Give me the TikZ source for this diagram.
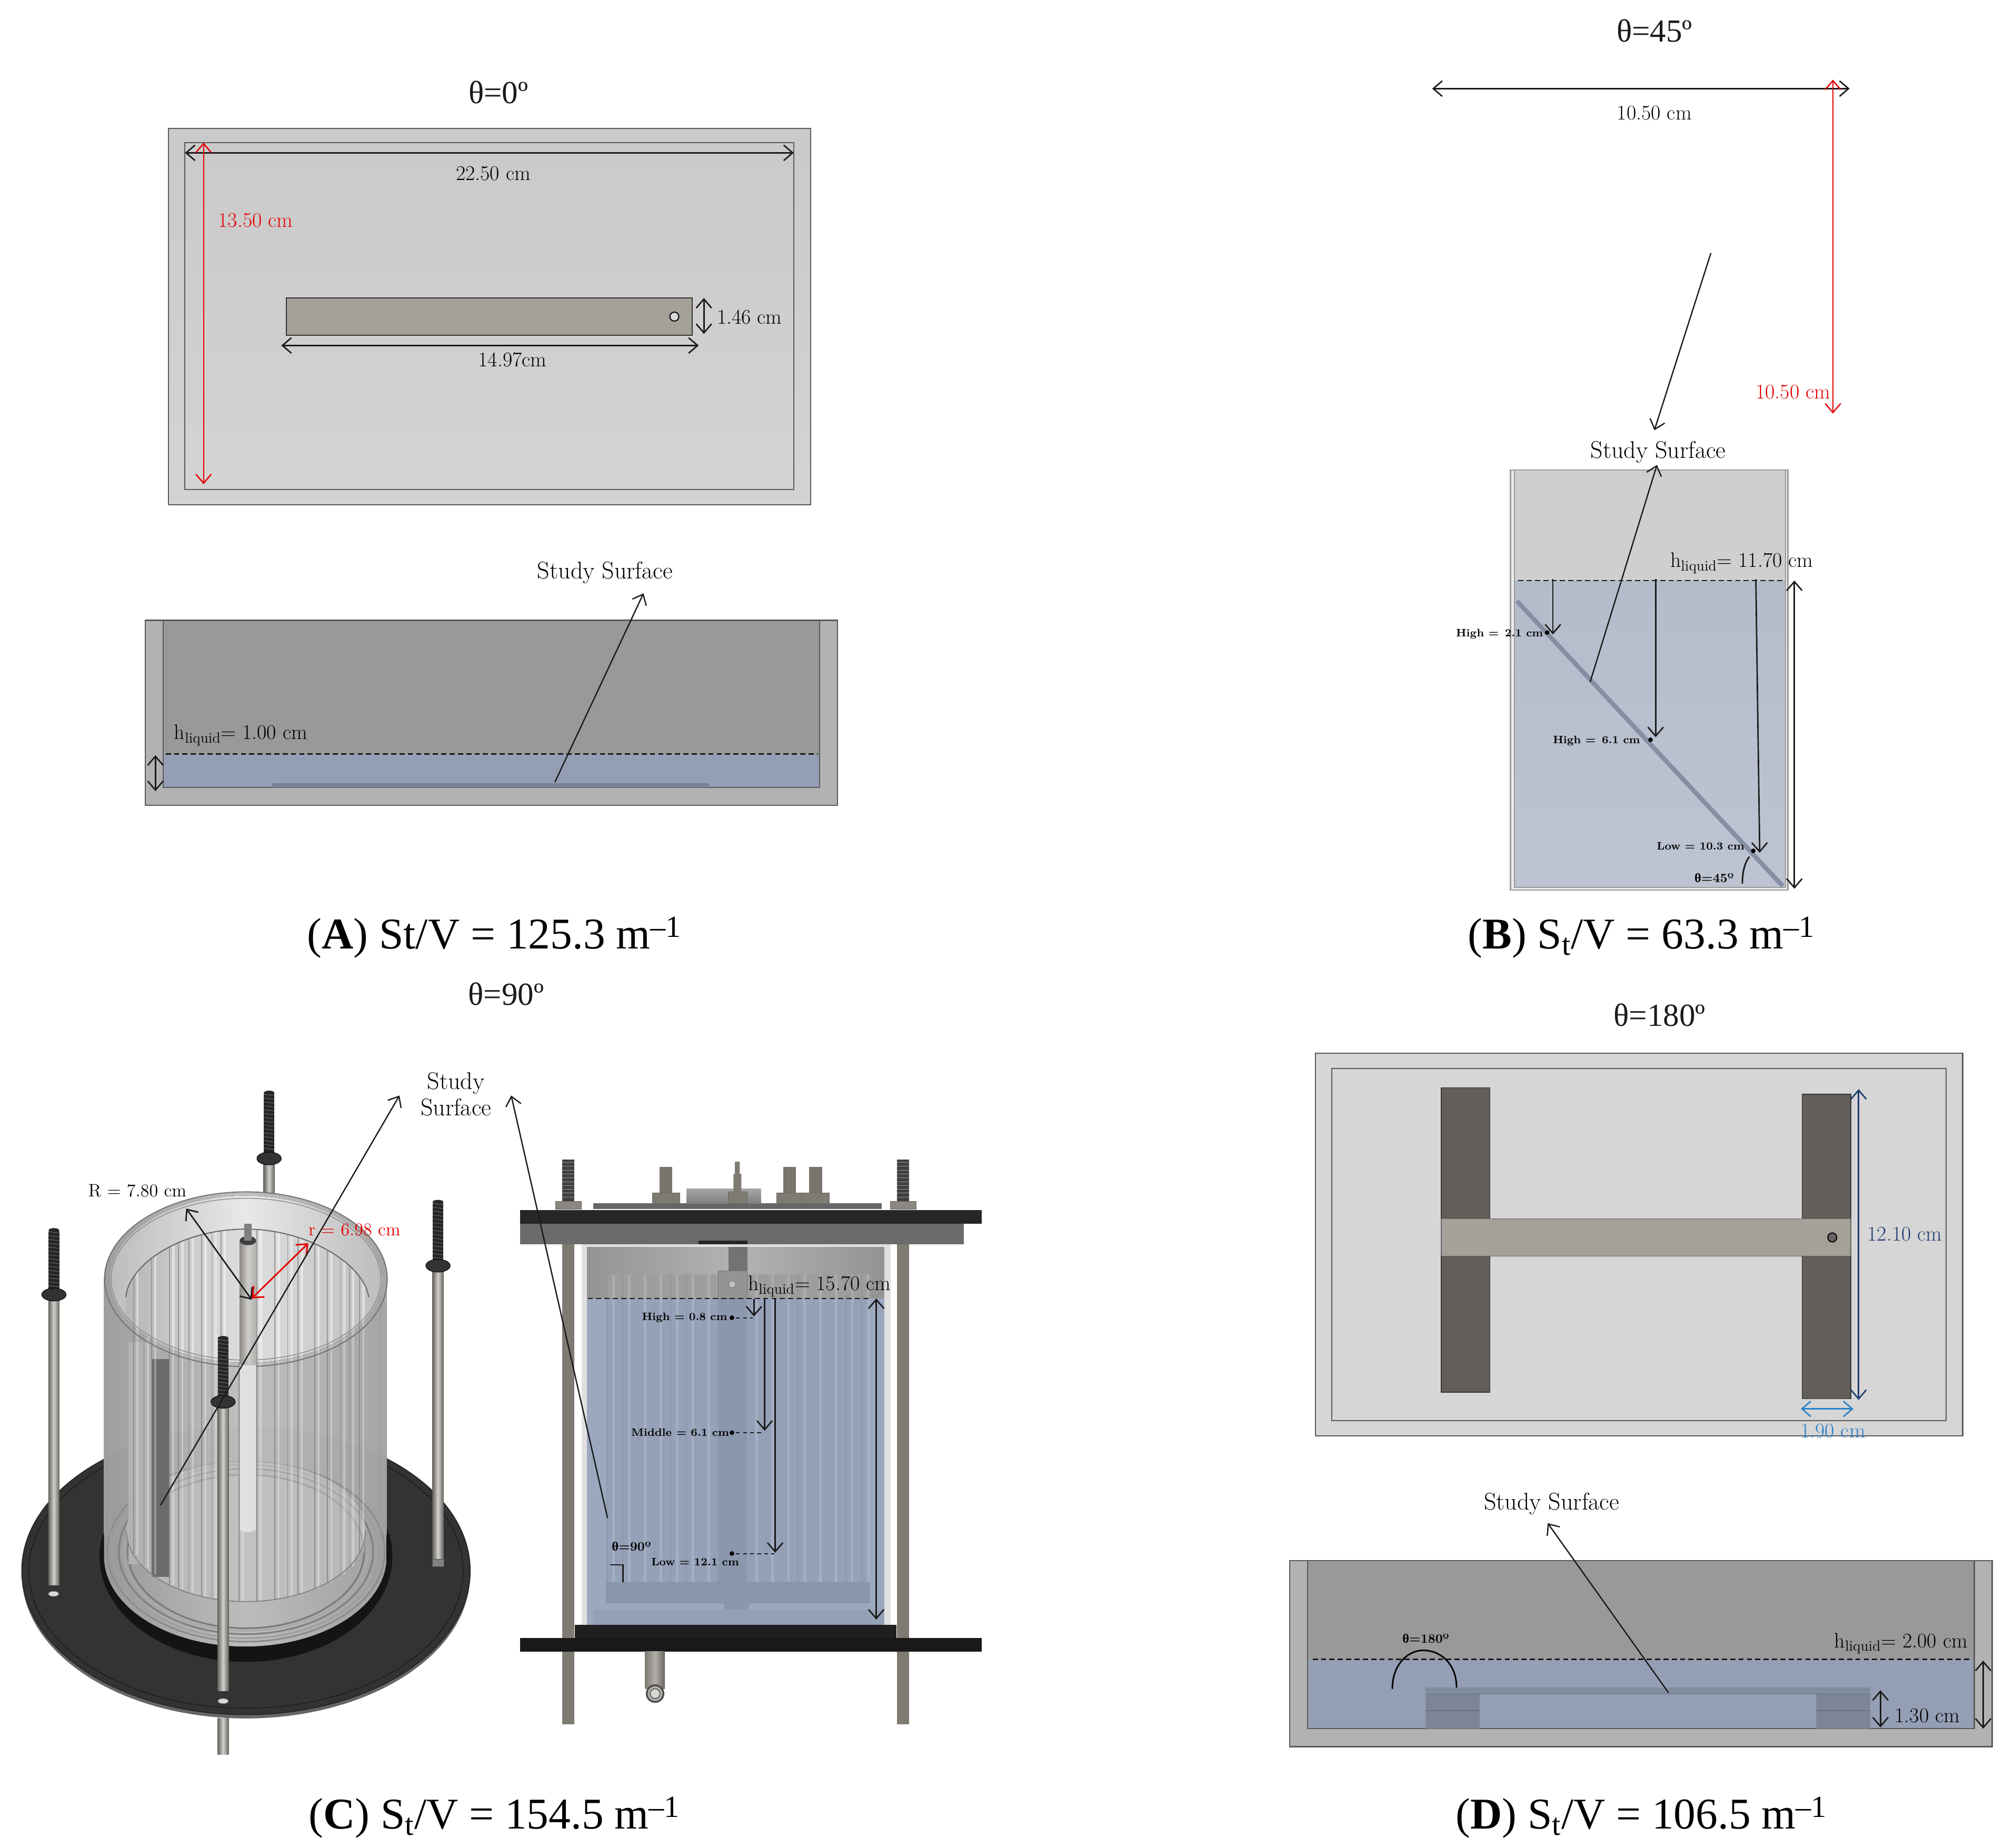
\documentclass[tikz,border=0pt]{standalone}
\usepackage{fontspec}
\usetikzlibrary{arrows.meta,calc}
\newfontfamily\capfont{Liberation Serif}
\definecolor{wallgray}{HTML}{B2B2B2}
\definecolor{airgray}{HTML}{999999}
\definecolor{liquidblue}{HTML}{949FB5}
\definecolor{liquidfront}{HTML}{9BA8C0}
\definecolor{platebrown}{HTML}{A5A098}
\definecolor{legbrown}{HTML}{625E5A}
\definecolor{navydim}{HTML}{1F3A70}
\definecolor{bluedim}{HTML}{2A80C8}
\definecolor{rodgray}{HTML}{7F7B73}
\definecolor{inkblack}{HTML}{1A1A1A}
\tikzset{
	txtlbl/.style={font=\fontsize{16.3}{18}\selectfont, text=black, inner sep=0pt},
	txtstudy/.style={font=\fontsize{18.8}{20.5}\selectfont, text=black, inner sep=0pt, align=center},
	txtbold/.style={font=\fontsize{8.4}{10}\selectfont\bfseries, text=black, inner sep=0pt},
	txtangle/.style={font=\fontsize{10}{12}\selectfont\bfseries, text=black, inner sep=0pt},
	txttitle/.style={font=\capfont\fontsize{25}{28}\selectfont, text=inkblack, inner sep=0pt},
	txtcap/.style={font=\capfont\fontsize{34.2}{40}\selectfont, text=black, inner sep=0pt},
	dimarrow/.style={inkblack, line width=1.1pt, >={Straight Barb[length=7pt,width=12pt]}},
	dimred/.style={dimarrow, red!90!black, line width=1pt},
	studyarrow/.style={dimarrow, line width=1pt},
	edgeline/.style={draw=black!65, line width=0.9pt},
	levelline/.style={inkblack, line width=1pt, dash pattern=on 4pt off 2.5pt},
}
\def\studrod(#1:#2:#3:#4){%
	\fill[left color=rodgray!80!black, right color=rodgray!80!black, middle color=rodgray!35] (#1-4.3,#3) rectangle (#1+4.3,#4);
	\fill[black!85] (#1-4.2,#2+2) rectangle (#1+4.2,#3-4);
	\fill[black!85] (#1,#2+1) ellipse [x radius=4.2, y radius=1.8];
	\foreach \t in {2,5,...,44}{\draw[black!50, line width=0.3pt] (#1-4.2,#2+\t) -- (#1+4.2,#2+\t+1);}
	\fill[black!80, draw=black] (#1,#3) ellipse [x radius=9.5, y radius=5];
}
\def\hexbolt(#1:#2:#3:#4:#5){%
	\fill[rodgray!95!black] (#1-#3,#2) rectangle (#1+#3,#5);
	\fill[rodgray, draw=black!60] (#1-#4,#5) rectangle (#1+#4,937);
}
\begin{document}
\begin{tikzpicture}[x=1pt, y=-1pt]
	%%%%% START %%%%%
	\useasboundingbox (0,0) rectangle (1568,1438.5);
	
	%%%%% A: top view
	\node[txttitle] (titleA) at (388,72) {θ=0º};
	\draw[edgeline, top color=black!21, bottom color=black!17] (131,100) rectangle (631,393);
	\draw[edgeline] (144,111) rectangle (618,381);
	\draw[black!80, fill=platebrown, line width=1pt] (223,232) rectangle (539,261);
	\draw[black, fill=white!85!black, line width=0.8pt] (525,246.5) circle (3.5);
	\draw[<->, dimarrow] (144,119) -- (618,119);
	\draw[<->, dimred] (158.5,111) -- (158.5,377);
	\draw[<->, dimarrow] (548,232) -- (548,260);
	\draw[<->, dimarrow] (219,269) -- (544,269);
	\node[txtlbl] (widthA) at (384,135) {22.50 cm};
	\node[txtlbl, text=red!90!black] (depthA) at (199,171.5) {13.50 cm};
	\node[txtlbl] (barA) at (583.5,247) {1.46 cm};
	\node[txtlbl] (lenA) at (399,280) {14.97cm};
	
	%%%%% A: side view
	\node[txtstudy] (studyA) at (471,446) {Study Surface};
	\draw[edgeline, fill=wallgray] (113,483) rectangle (652,627);
	\draw[edgeline, fill=airgray] (127,483) rectangle (638,613);
	\fill[liquidblue] (127.5,587) rectangle (637.5,612.5);
	\fill[black!18!liquidblue] (212,610) rectangle (552,613);
	\draw[levelline] (129,587) -- (637,587);
	\draw[->, studyarrow] (432,609) -- (501,462);
	\draw[<->, dimarrow] (121,588) -- (121,616);
	\node[txtlbl] (levelA) at (187.5,572.5) {h\textsubscript{liquid}= 1.00 cm};
	\node[txtcap] (capA) at (385,730) {(\textbf{A}) St/V = 125.3 m\textsuperscript{–1}};
	
	%%%%% B: inclined
	\node[txttitle] (titleB) at (1288,24) {θ=45º};
	\draw[<->, dimarrow] (1115,69) -- (1440,69);
	\draw[<->, dimred] (1427,62) -- (1427,322);
	\draw[->, studyarrow] (1332,197) -- (1288,335);
	\node[txtlbl] (widthB) at (1288,88) {10.50 cm};
	\node[txtlbl, text=red!90!black] (depthB) at (1396,305) {10.50 cm};
	\node[txtstudy] (studyB) at (1291,352) {Study Surface};
	\draw[black!40, fill=black!8, line width=1pt] (1176,366) rectangle (1392,693);
	\draw[black!40, fill=black!19, line width=0.8pt] (1179,366) rectangle (1390,691);
	\fill[top color=liquidblue!70!white, bottom color=liquidblue!62!white] (1179.5,452) rectangle (1389.5,690.5);
	\draw[black!10!liquidblue, line width=3.5pt] (1181,468) -- (1388,690);
	\draw[levelline] (1182,452) -- (1390,452);
	\draw[->, dimarrow] (1209,451) -- (1209,494);
	\draw[->, dimarrow] (1289,451) -- (1289,574);
	\draw[->, dimarrow] (1367,451) -- (1370,664);
	\draw[<->, dimarrow] (1397,452) -- (1397,692);
	\draw[->, studyarrow] (1238,531) -- (1290,362);
	\fill[black] (1204.5,492.5) circle (1.8) (1285,576) circle (1.8) (1365,662.5) circle (1.8);
	\draw[inkblack, line width=1.2pt] (1362,667) .. controls (1358,672) and (1356.5,680) .. (1356.5,688);
	\node[txtlbl] (levelB) at (1356,438.5) {h\textsubscript{liquid}= 11.70 cm};
	\node[txtbold] (highB) at (1167.5,493.5) {High = \,2.1 cm};
	\node[txtbold] (midB) at (1243,577) {High = \,6.1 cm};
	\node[txtbold] (lowB) at (1324,659) {Low = 10.3 cm};
	\node[txtangle] (angleB) at (1334.5,683.5) {{\capfont θ}=45º};
	\node[txtcap] (capB) at (1278,730) {(\textbf{B}) S\textsubscript{t}/V = 63.3 m\textsuperscript{–1}};
	
	%%%%% C: vertical, iso view
	\node[txttitle] (titleC) at (394,774) {θ=90º};
	\studrod(209.5:850:902:1100)
	\fill[black!60] (191.5,1226) ellipse [x radius=174.5, y radius=112];
	\draw[black!85, fill=black!80, line width=0.8pt] (191.5,1223) ellipse [x radius=174.5, y radius=112];
	\draw[black!90, line width=0.5pt] (191.5,1223) ellipse [x radius=169, y radius=107];
	\fill[black!92] (191.5,1212) ellipse [x radius=114, y radius=82];
	%% cylinder body
	\fill[left color=black!30, right color=black!27, middle color=black!14, fill opacity=0.86] (301,996) -- (301,1212) arc (0:180:110 and 70) -- (81,996) arc (180:360:110 and 68) -- cycle;
	\foreach \r/\c in {108/45,104/38,99/50,95/34,92/52}{
		\draw[black!\c, line width=1.3pt] (191.5,1208) ellipse [x radius=\r, y radius=\r*0.65];
	}
	\fill[black!22, fill opacity=0.55] (191.5,1192) ellipse [x radius=93, y radius=55];
	\fill[black!30] (100,1045) rectangle (118,1218);
	\fill[black!58] (118.5,1058) rectangle (131.5,1228);
	\foreach \x in {104,112,118,132,139,147,157,165,172,186,200,214,224,232,245,255,265,272,280}{
		\pgfmathsetmacro\ytop{995+50*sqrt(1-pow((\x-191.5)/93,2))}
		\pgfmathsetmacro\ybot{1192+55*sqrt(1-pow((\x-191.5)/93,2))}
		\draw[black!45, line width=0.6pt] (\x,\ytop) -- (\x,\ybot);
		\draw[white, opacity=0.3, line width=1.6pt] (\x+3,\ytop) -- (\x+3,\ybot);
	}
	\draw[black!50, line width=0.7pt] (98.5,1192) arc (180:0:93 and 55);
	\draw[black!38, line width=0.7pt] (81,996) -- (81,1195) (301,996) -- (301,1195) (86,1000) -- (86,1198) (296,1000) -- (296,1198);
	%% top rim and inside
	\fill[left color=black!26, right color=black!26, middle color=black!9] (191.5,996) ellipse [x radius=106, y radius=65];
	\begin{scope}
		\clip (191.5,996) ellipse [x radius=106, y radius=65];
		\clip (98,1070) -- (98,1010) .. controls (100,985) and (140,957) .. (191.5,957) .. controls (240,957) and (284,985) .. (287,1010) -- (287,1070) -- cycle;
		\fill[left color=black!28, right color=black!24, middle color=black!13] (98,950) rectangle (287,1070);
		\foreach \x in {104,118,132,139,147,157,165,172,200,214,224,232,245,255,265,272,280}{
			\draw[black!40, line width=0.7pt] (\x,950) -- (\x,1070);
			\draw[white, opacity=0.45, line width=1.8pt] (\x+3,950) -- (\x+3,1070);
		}
	\end{scope}
	\draw[black!60, line width=0.8pt] (98,1010) .. controls (100,985) and (140,957) .. (191.5,957) .. controls (240,957) and (284,985) .. (287,1010);
	\draw[black!55, line width=0.8pt] (191.5,996) ellipse [x radius=110, y radius=68];
	\draw[black!45, line width=0.6pt] (191.5,996) ellipse [x radius=105, y radius=63];
	%% centre tube
	\fill[black!12, draw=black!25] (186.5,1063) rectangle (199.5,1190);
	\fill[black!12] (193,1190) ellipse [x radius=6.5, y radius=3];
	\fill[left color=rodgray!90, right color=rodgray!60, middle color=black!20] (186.5,967) rectangle (199.5,1062);
	\fill[black!75] (193,966) ellipse [x radius=6.5, y radius=3.5];
	\fill[black!50] (190,953) rectangle (196,966);
	\studrod(42:957:1008:1234)
	\fill[black!15, draw=black!50] (41.7,1241) ellipse [x radius=4, y radius=2];
	\studrod(341:935:985.5:1214)
	\fill[black!50, draw=black!70] (336.5,1214) rectangle (345.5,1220);
	\studrod(173.7:1041:1091.5:1316.5)
	\fill[black!15, draw=black!50] (173.7,1324.5) ellipse [x radius=4, y radius=2];
	\fill[left color=rodgray!80!black, right color=rodgray!80!black, middle color=rodgray!35] (169.5,1338) rectangle (178,1366);
	\draw[<->, dimarrow] (145,941) -- (196,1012);
	\draw[<->, dimred, line width=1.2pt] (196,1011) -- (240,968);
	\draw[->, studyarrow] (125,1172) -- (311,853);
	\node[txtlbl, font=\fontsize{14}{16}\selectfont] (radiusC) at (107,927) {R = 7.80 cm};
	\node[txtlbl, font=\fontsize{14}{16}\selectfont, text=red!90!black] (innerC) at (276,957.5) {r = 6.98 cm};
	\node[txtstudy] (studyC) at (355,852) {Study\\Surface};
	
	%%%%% C: vertical, front view
	\fill[rodgray] (437.8,969) rectangle (447.2,1342.5);
	\fill[rodgray] (698.5,969) rectangle (707.7,1342.5);
	\fill[black!12] (452.7,969) rectangle (693.3,1265);
	\fill[left color=black!42, right color=black!42, middle color=black!30] (457,971) rectangle (688.5,1011);
	\fill[liquidfront] (457,1011) rectangle (688.5,1265);
	\fill[black!38] (472.5,992) rectangle (676.7,1011);
	\fill[black!4!liquidfront] (472.5,1011) rectangle (676.7,1232);
	\foreach \x in {472.5,484.9,...,677}{
		\draw[black!50, opacity=0.3, line width=0.6pt] (\x,992) -- (\x,1232);
		\draw[white, opacity=0.15, line width=2pt] (\x+5,992) -- (\x+5,1232);
	}
	\fill[black!55] (567,971) rectangle (582,990);
	\fill[black!42, draw=black!55] (559,989.5) rectangle (581.7,1011);
	\draw[black!55, fill=black!25] (570,1000) circle (2.7);
	\fill[black!10!liquidfront] (559,1011) rectangle (581.7,1234);
	\fill[black!10!liquidfront, draw=black!16!liquidfront] (472,1232) rectangle (677,1248);
	\fill[black!10!liquidfront] (564,1248) rectangle (583,1253.4);
	\fill[black!5!liquidfront] (462,1253.4) rectangle (688,1265);
	\draw[levelline] (457.6,1011) -- (678.4,1011);
	\fill[black!60] (461.8,937) rectangle (686.6,941.5);
	\fill[top color=black!35, bottom color=black!50] (534.5,925.7) rectangle (592.3,937);
	\hexbolt(518.5:908.7:5:10.7:929)
	\hexbolt(614.8:908.7:4.8:10:929)
	\hexbolt(635:908.7:5:10.5:929)
	\fill[rodgray] (572.2,904.5) rectangle (576,914) (571,914) rectangle (577.2,928);
	\fill[rodgray, draw=black!60] (566.8,928) rectangle (581.7,937);
	\foreach \x in {442.5,703.2}{
		\fill[black!75] (\x-4.7,903) rectangle (\x+4.7,935.5);
		\foreach \t in {905,908,...,933}{\draw[black!40, line width=0.3pt] (\x-4.7,\t) -- (\x+4.7,\t);}
		\fill[rodgray!90, draw=black!60] (\x-10,935.5) rectangle (\x+10,941.5);
	}
	\fill[black!85] (405,942) rectangle (764.5,953);
	\fill[black!58] (405,953) rectangle (750.4,969);
	\fill[black!85] (544,966) rectangle (582,969);
	\fill[black!88] (447.7,1265) rectangle (697.8,1275.3);
	\fill[black!90] (405,1275.3) rectangle (764.5,1286);
	\fill[left color=rodgray, right color=rodgray!80!black, middle color=rodgray!60] (502.3,1286) rectangle (517.7,1315);
	\draw[black!70, fill=rodgray!60, line width=1.4pt] (510,1318.7) circle (6.5);
	\draw[black!70, fill=rodgray!30, line width=0.6pt] (510,1318.7) circle (3.8);
	\draw[->, dimarrow] (587,1011.5) -- (587,1025);
	\draw[->, dimarrow] (595.3,1011.5) -- (595.3,1114);
	\draw[->, dimarrow] (603.5,1011.5) -- (603.5,1209);
	\draw[<->, dimarrow] (682.2,1011) -- (682.2,1261);
	\foreach \y/\xe in {1026/586,1115.5/595,1209.6/603}{
		\fill[black] (569.8,\y) circle (1.8);
		\draw[inkblack, line width=0.8pt, dash pattern=on 3pt off 2.5pt] (573,\y) -- (\xe,\y);
	}
	\draw[inkblack, line width=1.1pt] (475,1218.4) -- (485,1218.4) -- (485,1232);
	\draw[->, studyarrow] (473,1182) -- (398,853);
	\node[txtlbl] (levelC) at (638,1001.5) {h\textsubscript{liquid}= 15.70 cm};
	\node[txtbold] (highC) at (533,1026) {High = 0.8 cm};
	\node[txtbold] (midC) at (529.5,1115.5) {Middle = 6.1 cm};
	\node[txtbold] (lowC) at (541.2,1216) {Low = 12.1 cm};
	\node[txtangle] (angleC) at (491.6,1204) {{\capfont θ}=90º};
	\node[txtcap] (capC) at (385,1415) {(\textbf{C}) S\textsubscript{t}/V = 154.5 m\textsuperscript{–1}};
	
	%%%%% D: top view
	\node[txttitle] (titleD) at (1292,790.5) {θ=180º};
	\draw[edgeline, fill=black!16] (1024,820) rectangle (1528,1118);
	\draw[edgeline] (1037,832) rectangle (1515,1106);
	\draw[black!80, fill=legbrown, line width=0.6pt] (1122,847) rectangle (1160,1084);
	\draw[black!80, fill=legbrown, line width=0.6pt] (1403,852) rectangle (1441,1089);
	\draw[black!60, fill=platebrown, line width=0.6pt] (1122,949) rectangle (1441,978);
	\draw[black, fill=black!60, line width=0.8pt] (1426.5,963.5) circle (3.5);
	\draw[<->, dimarrow, navydim] (1447,848) -- (1447,1090);
	\draw[<->, dimarrow, bluedim] (1402,1097) -- (1443,1097);
	\node[txtlbl, text=navydim] (depthD) at (1483,961) {12.10 cm};
	\node[txtlbl, text=bluedim] (legD) at (1427,1114) {1.90 cm};
	
	%%%%% D: side view
	\node[txtstudy] (studyD) at (1208,1171) {Study Surface};
	\draw[edgeline, fill=wallgray] (1004,1215) rectangle (1551,1360);
	\draw[edgeline, fill=airgray] (1018,1215) rectangle (1537,1346);
	\fill[liquidblue] (1018.5,1292) rectangle (1536.5,1345.5);
	\fill[black!12!liquidblue] (1110,1314) rectangle (1456,1319);
	\fill[black!16!liquidblue] (1110,1319) rectangle (1152,1346) (1414,1319) rectangle (1456,1346);
	\draw[black!28!liquidblue, line width=0.8pt] (1110,1332) -- (1152,1332) (1414,1332) -- (1456,1332) (1110,1319) -- (1456,1319);
	\draw[levelline, line width=1.2pt] (1022,1292) -- (1534,1292);
	\draw[black, line width=1.2pt] (1084,1315) .. controls (1084,1296) and (1096,1285) .. (1108,1285) .. controls (1122,1285) and (1134,1296) .. (1134,1314);
	\draw[->, studyarrow] (1299,1318) -- (1205,1186);
	\draw[<->, dimarrow] (1464,1316) -- (1464,1345);
	\draw[<->, dimarrow] (1544,1293) -- (1544,1346);
	\node[txtangle] (angleD) at (1110,1276) {{\capfont θ}=180º};
	\node[txtlbl] (levelD) at (1480,1279.5) {h\textsubscript{liquid}= 2.00 cm};
	\node[txtlbl] (platD) at (1500.5,1336) {1.30 cm};
	\node[txtcap] (capD) at (1278,1415) {(\textbf{D}) S\textsubscript{t}/V = 106.5 m\textsuperscript{–1}};
	
	%%%%% END %%%%%
\end{tikzpicture}
\end{document}
